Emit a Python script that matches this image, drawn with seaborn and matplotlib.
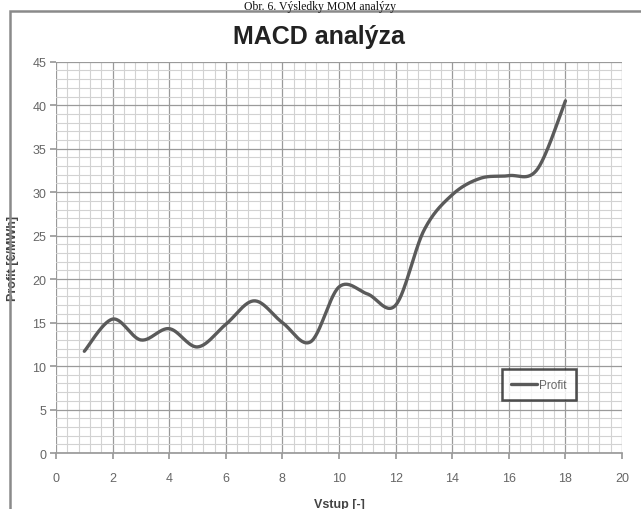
import numpy as np
import pandas as pd
import matplotlib
matplotlib.use("Agg")
import matplotlib.pyplot as plt
from matplotlib.ticker import MultipleLocator
from matplotlib.patches import Rectangle
import seaborn as sns

# ---- data ----
vstup = [1, 2, 3, 4, 5, 6, 7, 8, 9, 10, 11, 12, 13, 14, 15, 16, 17, 18]
profit = [11.7, 15.4, 13.0, 14.3, 12.2, 14.8, 17.5, 15.0, 12.8, 19.1, 18.3, 17.0,
          25.6, 29.7, 31.6, 31.9, 32.6, 40.5]
series_name = "Profit"
title = "MACD analýza"
caption = "Obr. 6. Výsledky MOM analýzy"
xlabel = "Vstup [-]"
ylabel = "Profit [€/MWh]"
xticks = [0, 2, 4, 6, 8, 10, 12, 14, 16, 18, 20]
yticks = [0, 5, 10, 15, 20, 25, 30, 35, 40, 45]


def smooth(xs, ys, n=30):
    """Excel-style smoothed line (Bezier with Catmull-Rom control points)."""
    x = np.asarray(xs, float)
    y = np.asarray(ys, float)
    px = np.concatenate([[x[0]], x, [x[-1]]])
    py = np.concatenate([[y[0]], y, [y[-1]]])
    ox, oy = [], []
    t = np.linspace(0, 1, n)
    for i in range(1, len(px) - 2):
        p0 = np.array([px[i], py[i]])
        p3 = np.array([px[i + 1], py[i + 1]])
        c1 = p0 + (np.array([px[i + 1], py[i + 1]]) - np.array([px[i - 1], py[i - 1]])) / 6
        c2 = p3 - (np.array([px[i + 2], py[i + 2]]) - np.array([px[i], py[i]])) / 6
        b = ((1 - t) ** 3)[:, None] * p0 + (3 * (1 - t) ** 2 * t)[:, None] * c1 \
            + (3 * (1 - t) * t ** 2)[:, None] * c2 + (t ** 3)[:, None] * p3
        if i > 1:
            b = b[1:]
        ox.extend(b[:, 0])
        oy.extend(b[:, 1])
    return ox, oy


sns.set_theme(style="white")
plt.rcParams["font.family"] = ["Liberation Sans", "DejaVu Sans"]

fig = plt.figure(figsize=(6.41, 5.10), dpi=100)
ax = fig.add_axes([0.0874, 0.1098, 0.9704 - 0.0874, 0.877 - 0.1098])

sx, sy = smooth(vstup, profit)
df = pd.DataFrame({"x": sx, "y": sy, "s": series_name})
sns.lineplot(data=df, x="x", y="y", hue="s", palette=["#5a5a5a"], linewidth=2.4,
             ax=ax, sort=False, estimator=None, zorder=5)

ax.set_xlim(0, 20)
ax.set_ylim(0, 45)
ax.set_xticks(xticks)
ax.set_yticks(yticks)
ax.xaxis.set_minor_locator(MultipleLocator(0.4))
ax.yaxis.set_minor_locator(MultipleLocator(1))
ax.grid(which="major", color="#9a9a9a", linewidth=0.9)
ax.grid(which="minor", color="#d2d2d2", linewidth=0.8)
ax.set_axisbelow(True)
for side in ["top", "right", "left"]:
    ax.spines[side].set_visible(False)
ax.spines["bottom"].set_color("#9a9a9a")
ax.tick_params(axis="both", which="major", labelsize=9, labelcolor="#666666",
               length=4, color="#9a9a9a", direction="out", bottom=True, left=True)
ax.tick_params(which="minor", length=0)
ax.tick_params(axis="x", pad=10)
ax.tick_params(axis="y", pad=3)

ax.set_xlabel(xlabel, fontsize=9, fontweight="bold", color="#444444")
ax.xaxis.set_label_coords(0.5, -0.115)
ax.set_ylabel(ylabel, fontsize=9, fontweight="bold", color="#444444")
ax.yaxis.set_label_coords(-0.065, 0.5)

fig.text(0.497, 0.928, title, ha="center", va="center", fontsize=18,
         fontweight="bold", color="#222222")
fig.text(0.5, 0.999, caption, ha="center", va="top", fontsize=8.5,
         family=["Liberation Serif", "DejaVu Serif"], color="#111111")

fig.patches.append(Rectangle((10 / 641, -0.05), 1.0, 1 - 12 / 510 + 0.05,
                             transform=fig.transFigure, fill=False,
                             edgecolor="#8a8a8a", linewidth=1.8))

leg = ax.legend(loc="center", bbox_to_anchor=(0.853, 0.174), fontsize=8.5,
                frameon=True, fancybox=False, handlelength=2.2, handletextpad=0.1,
                borderpad=0.8, borderaxespad=0)
leg.get_frame().set_edgecolor("#222222")
leg.get_frame().set_linewidth(1.8)
for t in leg.get_texts():
    t.set_color("#666666")

fig.savefig("out.png", dpi=100)
